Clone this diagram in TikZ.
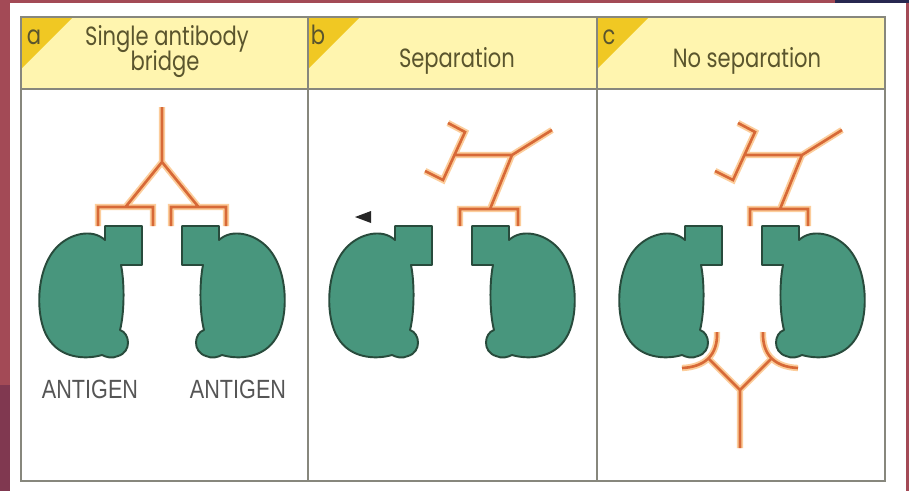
\documentclass[tikz,border=0pt]{standalone}
\usepackage{fontspec}
\setmainfont{Liberation Sans}
\newfontfamily\titlefont[FakeStretch=0.8]{Poppins}
\newfontfamily\labelfont[FakeStretch=0.82]{Liberation Sans}

\definecolor{maroon}{RGB}{163,74,86}
\definecolor{maroondark}{RGB}{128,56,80}
\definecolor{navy}{RGB}{40,40,80}
\definecolor{headfill}{RGB}{255,245,175}
\definecolor{cornerfill}{RGB}{240,200,35}
\definecolor{framegray}{RGB}{135,135,125}
\definecolor{titletext}{RGB}{90,85,45}
\definecolor{agfill}{RGB}{72,150,125}
\definecolor{agline}{RGB}{40,75,60}
\definecolor{abcore}{RGB}{215,105,55}
\definecolor{abglow}{RGB}{252,205,155}
\definecolor{labelgray}{RGB}{85,85,85}

\begin{document}
\begin{tikzpicture}[x=0.02cm, y=-0.02cm,
  frame/.style={draw=framegray, line width=1pt},
  corner/.style={fill=cornerfill},
  antigen/.style={fill=agfill, draw=agline, line width=1.1pt, line join=round},
  antibody/.style={draw=abcore, line width=1.5pt, line join=miter, line cap=butt,
    preaction={draw=abglow, line width=3.6pt}},
  title/.style={text=titletext, anchor=base, inner sep=0pt,
    font=\titlefont\fontsize{15}{18}\selectfont},
  tag/.style={text=titletext, anchor=base, inner sep=0pt,
    font=\titlefont\fontsize{15}{18}\selectfont},
  agname/.style={text=labelgray, anchor=base, inner sep=0pt,
    font=\labelfont\fontsize{15}{18}\selectfont}]

\useasboundingbox (0,0) rectangle (909,491);

% page surround
\fill[maroon] (0,0) rectangle (909,491);
\fill[maroondark] (0,385) rectangle (10,491);
\fill[navy] (835,0) rectangle (909,3);
\fill[white] (10,3) rectangle (906,491);

% header band with corner tabs
\fill[headfill] (21,17) rectangle (885,89);
\foreach \px in {21,308,597}
  \fill[corner] (\px,17) -- ++(52,0) -- ++(-52,52) -- cycle;

% frame and panel dividers
\draw[frame] (21,17) rectangle (885,481);
\draw[frame] (21,89) -- (885,89);
\draw[frame] (308,17) -- (308,481);
\draw[frame] (597,17) -- (597,481);

% panel tags and headings
\node[tag] (taga) at (34,44) {a};
\node[tag] (tagb) at (318,44) {b};
\node[tag] (tagc) at (609,44) {c};
\node[title] (ta1) at (167,45) {Single antibody};
\node[title] (ta2) at (165,70) {bridge};
\node[title] (tb) at (457,67) {Separation};
\node[title] (tc) at (747,67) {No separation};

% antigen outline: square epitope on top of a kidney-shaped body,
% local origin at the inner top corner of the square
\foreach \ox/\dir in {142/1, 432/1, 722/1, 182/-1, 472/-1, 762/-1}{
  \begin{scope}[shift={(\ox,226)}, xscale=\dir]
    \path[antigen] (-37,0) -- (0,0) -- (0,39) -- (-21,39)
      .. controls (-17,59) and (-18,89) .. (-22,104)
      .. controls (-12,107) and (-10,126) .. (-24,130)
      .. controls (-30,133) and (-36,131) .. (-40,129)
      .. controls (-57,134) and (-82,132) .. (-94,112)
      .. controls (-107,92) and (-107,42) .. (-84,20)
      .. controls (-72,8) and (-50,2) .. (-37,14)
      -- cycle;
  \end{scope}
}

% antigen labels
\node[agname] (agl) at (90,398) {ANTIGEN};
\node[agname] (agr) at (238,398) {ANTIGEN};

% panel a: one antibody bridging both epitopes
\coordinate (aTop) at (162,107);
\coordinate (aJ) at (162,162);
\coordinate (aL) at (125.5,207);
\coordinate (aR) at (198.5,207);
\draw[antibody] (aTop) -- (aJ) -- (aL) (aJ) -- (aR)
  (98,226) -- (98,207) -- (153,207) -- (153,226)
  (171,226) -- (171,207) -- (226,207) -- (226,226);

% panels b and c: antibody bound to the right antigen only
\foreach \dx in {0,290}{
  \begin{scope}[xshift=\dx*0.02cm]
    \coordinate (bJ) at (512,155);
    \coordinate (bS) at (490,209);
    \coordinate (bU) at (552,130);
    \coordinate (bH) at (455,155);
    \draw[antibody] (bS) -- (bJ) -- (bU) (bJ) -- (bH)
      (460,226) -- (460,209) -- (518,209) -- (518,226)
      (448,123) -- (465,132) -- (443,180) -- (425,171);
  \end{scope}
}

% panel b: direction marker
\fill[black!85] (355,217) -- (371,211) -- (371,223) -- cycle;

% panel c: second antibody holding the antigens from below
\coordinate (cJ) at (740,390);
\coordinate (cB) at (740,448);
\coordinate (cL) at (708,358);
\coordinate (cR) at (772,358);
\draw[antibody] (cB) -- (cJ) -- (cL) (cJ) -- (cR)
  (717,332) .. controls (718,355) and (705,367) .. (682,368)
  (763,332) .. controls (762,355) and (775,367) .. (798,368);

\end{tikzpicture}
\end{document}
